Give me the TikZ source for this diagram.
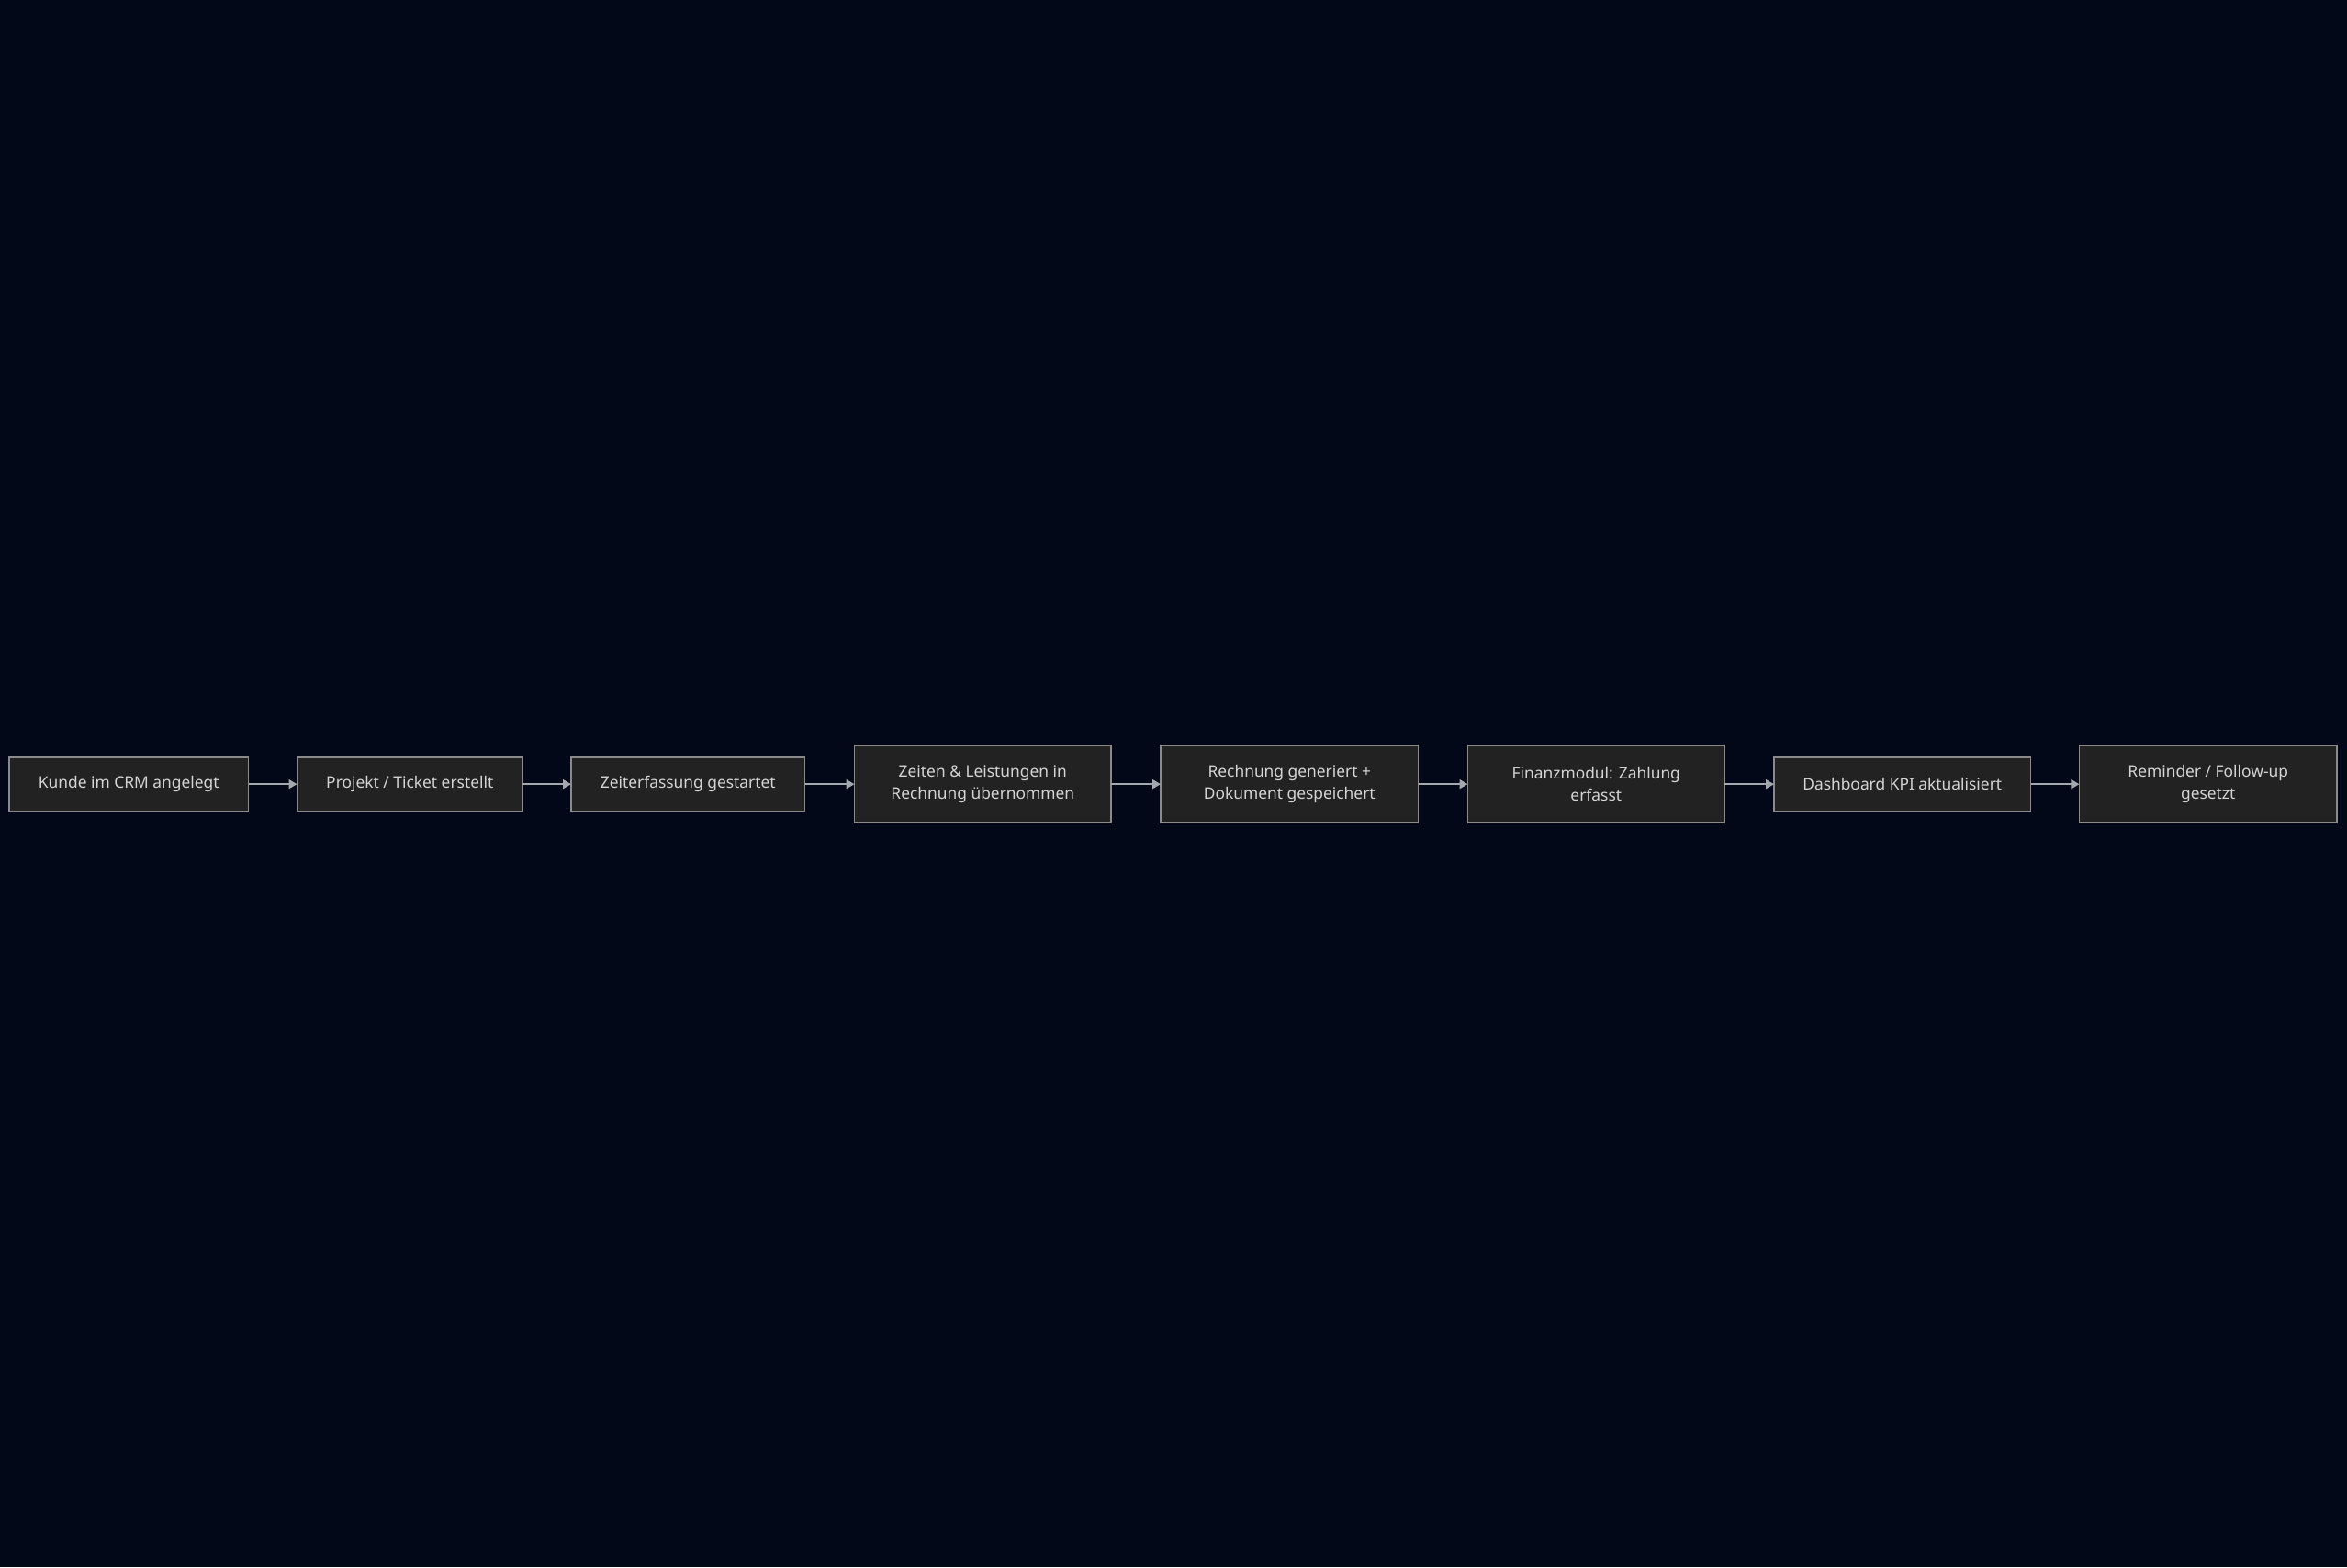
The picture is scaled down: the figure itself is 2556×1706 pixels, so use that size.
\documentclass[tikz,border=0pt]{standalone}
\usepackage{fontspec}
\setmainfont{Noto Sans}
\usetikzlibrary{arrows.meta}
\definecolor{bgc}{HTML}{020817}
\definecolor{boxfill}{HTML}{212221}
\definecolor{boxline}{HTML}{8A8A8A}
\definecolor{txt}{HTML}{D4D4D4}
\definecolor{arr}{HTML}{A3A7AE}
\tikzset{
  stepbox/.style={draw=boxline, fill=boxfill, line width=1.6pt, inner sep=0pt, outer sep=0pt,
    align=center, text=txt, font=\fontsize{17.4}{24.5}\selectfont},
  shortbox/.style={stepbox, minimum height=59pt},
  tallbox/.style={stepbox, minimum height=84pt},
  flow/.style={draw=arr, line width=2pt, -{Triangle[length=9pt,width=10pt]}}
}
\begin{document}
\begin{tikzpicture}[x=1pt,y=-1pt]
\fill[bgc] (-2,-2) rectangle (2558,1708);
\useasboundingbox (0,0) rectangle (2556,1706);
\node[shortbox, minimum width=261pt] (n1) at (138.5,853.5) {Kunde im CRM angelegt};
\node[shortbox, minimum width=246pt] (n2) at (445,853.5) {Projekt / Ticket erstellt};
\node[shortbox, minimum width=255pt] (n3) at (748.5,853.5) {Zeiterfassung gestartet};
\node[tallbox, minimum width=280pt] (n4) at (1070,853.5) {Zeiten \& Leistungen in\\Rechnung übernommen};
\node[tallbox, minimum width=281pt] (n5) at (1404.5,853.5) {Rechnung generiert +\\Dokument gespeichert};
\node[tallbox, minimum width=280pt] (n6) at (1739,853.5) {Finanzmodul: Zahlung\\erfasst};
\node[shortbox, minimum width=280pt] (n7) at (2073,853.5) {Dashboard KPI aktualisiert};
\node[tallbox, minimum width=281pt] (n8) at (2406.5,853.5) {Reminder / Follow-up\\gesetzt};
\draw[flow] (n1) -- (n2);
\draw[flow] (n2) -- (n3);
\draw[flow] (n3) -- (n4);
\draw[flow] (n4) -- (n5);
\draw[flow] (n5) -- (n6);
\draw[flow] (n6) -- (n7);
\draw[flow] (n7) -- (n8);
\end{tikzpicture}
\end{document}
